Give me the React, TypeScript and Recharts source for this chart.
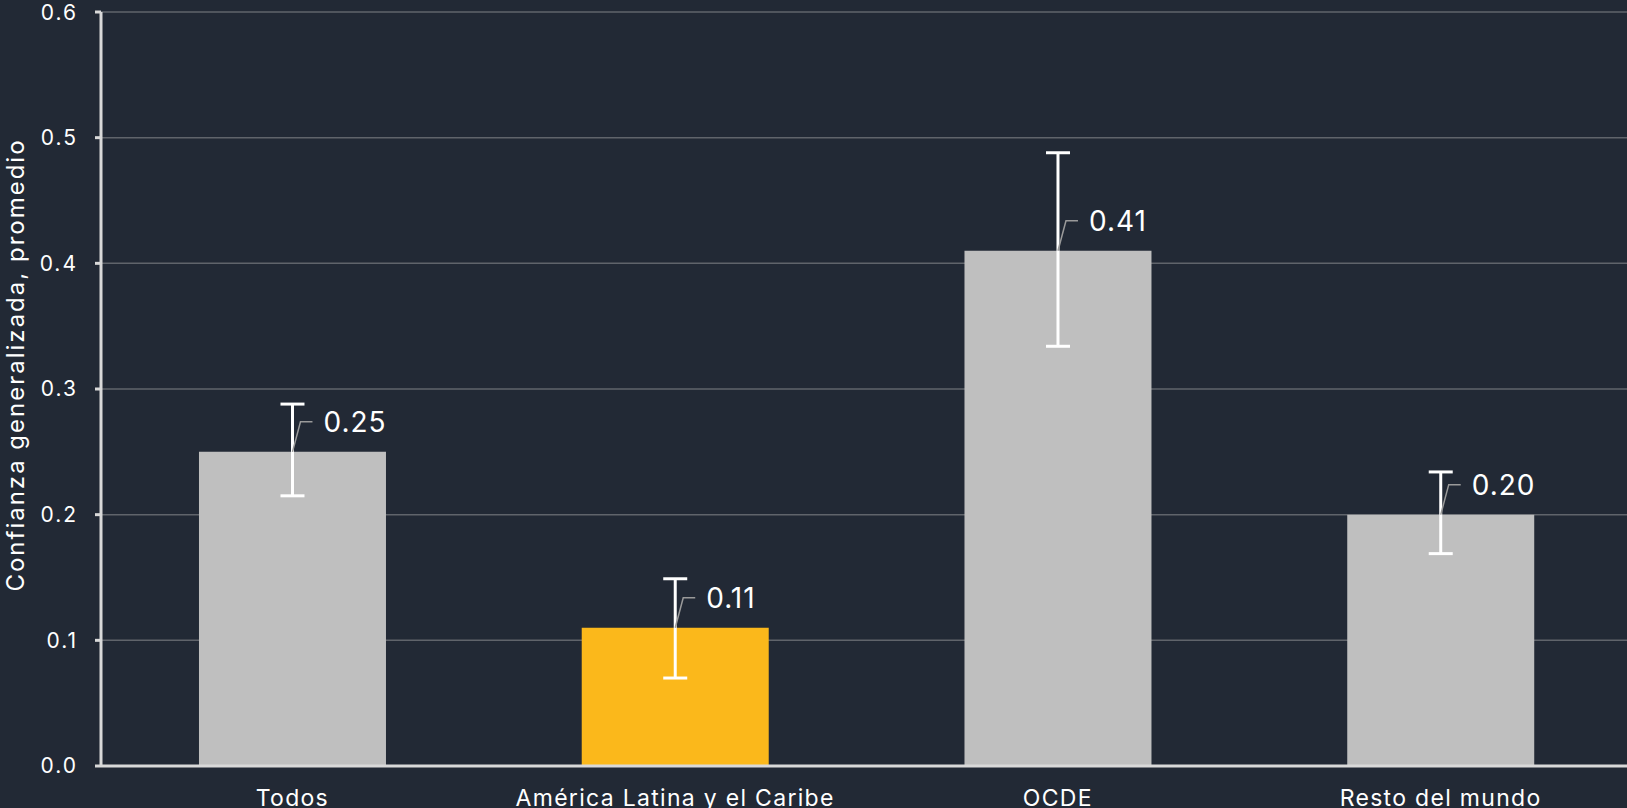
import { Bar, BarChart, CartesianGrid, Cell, ErrorBar, LabelList, XAxis, YAxis } from 'recharts'

const categories = ['Todos', 'América Latina y el Caribe', 'OCDE', 'Resto del mundo']
const means = [0.25, 0.11, 0.41, 0.2]
// [below, above] distance of the interval ends from the mean
const intervals = [
  [0.035, 0.038],
  [0.04, 0.039],
  [0.076, 0.078],
  [0.031, 0.034],
]
const highlight = [false, true, false, false]
const yTicks = [0, 0.1, 0.2, 0.3, 0.4, 0.5, 0.6]

const data = categories.map((name, i) => ({
  name,
  value: means[i],
  err: intervals[i],
  hi: highlight[i],
}))

const BG = '#222935'
const FONT = 'Inter, "Noto Sans", sans-serif'

function ValueLabel(props: any) {
  const { x, y, width, value } = props
  const cx = x + width / 2
  const ly = y - 30
  return (
    <g>
      <polyline
        points={`${cx},${y} ${cx + 8},${ly} ${cx + 20},${ly}`}
        fill="none"
        stroke="#9a9a9a"
        strokeWidth={1.5}
      />
      <text
        x={cx + 31}
        y={ly}
        dominantBaseline="central"
        fill="#ffffff"
        fontSize={28}
        letterSpacing={1}
        fontFamily={FONT}
      >
        {Number(value).toFixed(2)}
      </text>
    </g>
  )
}

function YLabel(props: any) {
  const { viewBox } = props
  const cx = 15
  const cy = viewBox.y + viewBox.height / 2 - 24
  return (
    <text
      x={cx}
      y={cy}
      transform={`rotate(-90 ${cx} ${cy})`}
      textAnchor="middle"
      dominantBaseline="central"
      fill="#ffffff"
      fontSize={24}
      letterSpacing={2}
      fontFamily={FONT}
    >
      Confianza generalizada, promedio
    </text>
  )
}

export default function App() {
  return (
    <div style={{ position: 'absolute', left: 0, top: 0, width: 1627, height: 808, overflow: 'hidden', background: BG }}>
      <BarChart
        width={1632}
        height={808}
        data={data}
        margin={{ top: 12, right: 0, bottom: 0, left: 0 }}
        barCategoryGap="25.6%"
      >
        <CartesianGrid vertical={false} stroke="#60646b" strokeWidth={1.5} />
        <XAxis
          dataKey="name"
          height={42}
          axisLine={{ stroke: '#d9d9d9', strokeWidth: 3 }}
          tickLine={false}
          interval={0}
          tick={{ fill: '#ffffff', fontSize: 23, letterSpacing: 1.3, fontFamily: FONT, dy: 16 }}
        />
        <YAxis
          width={101}
          domain={[0, 0.6]}
          ticks={yTicks}
          tickFormatter={(v: number) => v.toFixed(1)}
          axisLine={{ stroke: '#d9d9d9', strokeWidth: 3 }}
          tickLine={{ stroke: '#d9d9d9', strokeWidth: 3 }}
          tickSize={6}
          tickMargin={17}
          tick={{ fill: '#ffffff', fontSize: 21, letterSpacing: 2, fontFamily: FONT }}
          label={<YLabel />}
        />
        <Bar dataKey="value" isAnimationActive={false}>
          {data.map((d) => (
            <Cell key={d.name} fill={d.hi ? '#fbb81b' : '#bfbfbf'} />
          ))}
          <ErrorBar dataKey="err" width={12} stroke="#ffffff" strokeWidth={3} direction="y" />
          <LabelList dataKey="value" content={<ValueLabel />} />
        </Bar>
      </BarChart>
    </div>
  )
}
